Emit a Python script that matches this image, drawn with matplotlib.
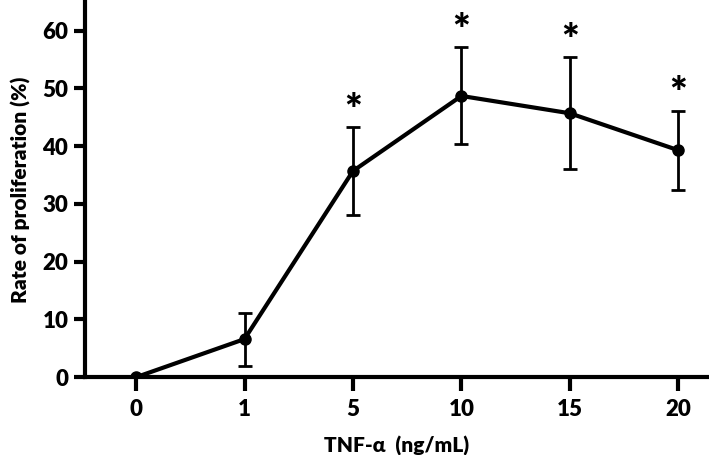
import numpy as np
import matplotlib.pyplot as plt

plt.rcParams['font.family'] = ['Lato', 'DejaVu Sans']
plt.rcParams['font.weight'] = 'bold'

# data
doses = ["0", "1", "5", "10", "15", "20"]
rate = [0.0, 6.6, 35.7, 48.7, 45.7, 39.3]
err = [0.0, 4.6, 7.6, 8.4, 9.7, 6.8]
signif = [False, False, True, True, True, True]

fig = plt.figure(figsize=(7.09, 4.55), dpi=100)
ax = fig.add_axes([0.12, 0.171, 0.878, 0.825])

x = np.arange(len(doses))
ax.errorbar(x, rate, yerr=err, color="black", lw=3, marker="o", ms=8,
            elinewidth=2, capsize=5, capthick=2)

# significance stars above the error bars
for xi, r, e, s in zip(x, rate, err, signif):
    if s:
        ax.text(xi, r + e - 0.6, "*", ha="center", va="bottom",
                fontsize=30, fontweight="heavy")

ax.set_xlim(-0.47, 5.27)
ax.set_ylim(0, 65)
ax.set_xticks(x)
ax.set_xticklabels(doses)
ax.set_yticks(np.arange(0, 61, 10))

for side in ["top", "right"]:
    ax.spines[side].set_visible(False)
for side in ["left", "bottom"]:
    ax.spines[side].set_linewidth(3)

ax.tick_params(axis="both", width=3, labelsize=16)
ax.tick_params(axis="x", length=10, pad=6)
ax.tick_params(axis="y", length=8, pad=4)
for lab in ax.get_xticklabels() + ax.get_yticklabels():
    lab.set_fontweight("heavy")

ax.set_xlabel("TNF-α  (ng/mL)", fontsize=15, fontweight="heavy", labelpad=11)
ax.set_ylabel("Rate of proliferation (%)", fontsize=15, fontweight="heavy", labelpad=8)

fig.savefig("out.png", dpi=100)
